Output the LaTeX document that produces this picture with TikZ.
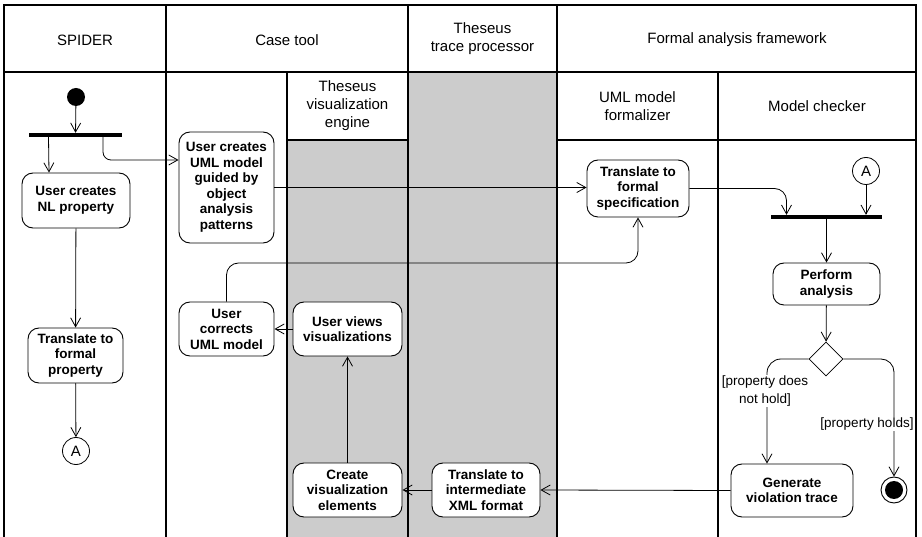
\documentclass[tikz,border=0pt]{standalone}
\usepackage{fontspec}
\setmainfont{Liberation Sans}
\usetikzlibrary{arrows.meta,shapes.geometric}

\begin{document}
\begin{tikzpicture}[x=1pt,y=-1pt,
  lane/.style={black, line width=1.2pt},
  head/.style={align=center, font=\fontsize{15}{18}\selectfont},
  act/.style={draw, fill=white, rounded corners=11pt, line width=0.9pt, align=center, inner sep=0pt,
    font=\fontsize{13.5}{15.5}\selectfont\bfseries},
  bar/.style={fill=black, inner sep=0pt, minimum height=4pt},
  conn/.style={draw, fill=white, circle, inner sep=0pt, minimum size=27pt, line width=0.8pt,
    font=\fontsize{15}{17}\selectfont},
  decide/.style={draw, fill=white, diamond, inner sep=0pt, minimum width=34pt, minimum height=34pt, line width=0.8pt},
  flow/.style={line width=0.8pt, -{Straight Barb[length=9pt,width=10pt]}},
  guard/.style={fill=white, inner sep=1pt, align=center, font=\fontsize{13.5}{18}\selectfont}]
  \useasboundingbox (0,0) rectangle (922,537);

  % swimlanes
  \fill[gray!40] (287,140) rectangle (408,537);
  \fill[gray!40] (408,72) rectangle (557,537);
  \draw[lane] (4,537) |- (916,5) -- (916,537);
  \draw[lane] (4,72) -- (916,72);
  \foreach \x in {166,408,557} \draw[lane] (\x,5) -- (\x,537);
  \foreach \x in {287,718} \draw[lane] (\x,72) -- (\x,537);
  \draw[lane] (287,140) -- (408,140);
  \draw[lane] (557,140) -- (916,140);

  \node[head] (hspider) at (85,40) {SPIDER};
  \node[head] (hcase) at (287,40) {Case tool};
  \node[head] (htrace) at (482.5,39) {Theseus\\trace processor};
  \node[head] (hformal) at (737,40) {Formal analysis framework};
  \node[head] (hvis) at (347.5,106) {Theseus\\visualization\\engine};
  \node[head] (hformalizer) at (637.5,106) {UML model\\formalizer};
  \node[head] (hchecker) at (817,106) {Model checker};

  % activities
  \node[circle, fill=black, minimum size=18pt, inner sep=0pt] (start) at (76,97) {};
  \node[bar, minimum width=93pt] (fork1) at (75.5,135) {};
  \node[act, minimum width=108pt, minimum height=55pt] (nlprop) at (76,200.5) {User creates\\NL property};
  \node[act, minimum width=95pt, minimum height=55pt] (formprop) at (75.5,355.5) {Translate to\\formal\\property};
  \node[conn] (conA1) at (76,451) {A};
  \node[act, minimum width=95pt, minimum height=111pt] (umlmodel) at (226.5,187.5) {User creates\\UML model\\guided by\\object\\analysis\\patterns};
  \node[act, minimum width=95pt, minimum height=54pt] (corrects) at (226.5,329) {User\\corrects\\UML model};
  \node[act, minimum width=109pt, minimum height=54pt] (views) at (347.5,329) {User views\\visualizations};
  \node[act, minimum width=109pt, minimum height=54pt] (createvis) at (347.5,490) {Create\\visualization\\elements};
  \node[act, minimum width=108pt, minimum height=54pt] (xmlfmt) at (486,490) {Translate to\\intermediate\\XML format};
  \node[act, minimum width=102pt, minimum height=57pt] (formspec) at (638,188.5) {Translate to\\formal\\specification};
  \node[conn] (conA2) at (866,171) {A};
  \node[bar, minimum width=111pt] (fork2) at (826.5,217) {};
  \node[act, minimum width=107pt, minimum height=42pt] (analysis) at (826.5,284) {Perform\\analysis};
  \node[decide] (decision) at (826,359) {};
  \node[act, minimum width=122pt, minimum height=53pt] (violation) at (792,490.5) {Generate\\violation trace};
  \node[draw, circle, minimum size=26pt, inner sep=0pt, line width=0.9pt] (final) at (894,490) {};
  \fill (final.center) circle[radius=9pt];

  % control flow
  \draw[flow] (start) -- (fork1);
  \draw[flow] ([xshift=-27pt]fork1.south) -- ([xshift=-27pt]nlprop.north);
  \draw[flow, rounded corners=8pt] ([xshift=27.5pt]fork1.south) |- ([yshift=27.5pt]umlmodel.west);
  \draw[flow] (nlprop) -- (formprop);
  \draw[flow] (formprop) -- (conA1);
  \draw[flow] (umlmodel.east) -- (umlmodel.east -| formspec.west);
  \draw[flow, rounded corners=12pt] (formspec.east) -| ([xshift=-40pt]fork2.north);
  \draw[flow] (conA2) -- (conA2 |- fork2.north);
  \draw[flow] (fork2) -- (analysis);
  \draw[flow] (analysis) -- (decision);
  \draw[flow, rounded corners=14pt] (decision.west) -| ([xshift=-25pt]violation.north);
  \draw[flow, rounded corners=13pt] (decision.east) -| (final.north);
  \node[guard] (gnot) at (765,391) {[property does\\not hold]};
  \node[guard] (gholds) at (867,424) {[property holds]};
  \draw[flow] (violation.west) -- (xmlfmt.east);
  \draw[flow] (xmlfmt.west) -- (createvis.east);
  \draw[flow] (createvis) -- (views);
  \draw[flow] (views.west) -- (corrects.east);
  \draw[flow, rounded corners=12pt] (corrects.north) |- (formspec.south |- 0,263) -- (formspec.south);
\end{tikzpicture}
\end{document}
